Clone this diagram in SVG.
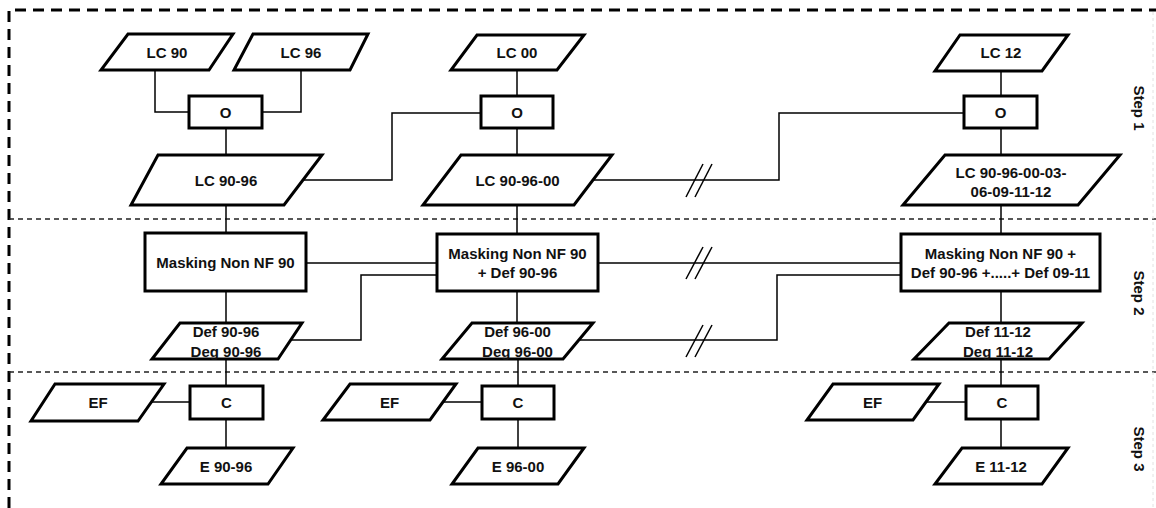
<svg xmlns="http://www.w3.org/2000/svg" width="1156" height="508" viewBox="0 0 1156 508">
<style>
.n{fill:#fff;stroke:#000;stroke-width:3;stroke-linejoin:miter}
.c{fill:none;stroke:#000;stroke-width:1.5}
.t{font-family:"Liberation Sans",Arial,sans-serif;font-weight:bold;font-size:15px;fill:#111;text-anchor:middle}
.sep{fill:none;stroke:#222;stroke-width:1.5;stroke-dasharray:5 4}
.outer{fill:none;stroke:#000;stroke-width:3;stroke-dasharray:11 7}
</style>
<rect width="1156" height="508" fill="#fff"/>
<g id="frame">
<path class="outer" d="M9,508 L9,10 L1156,10"/>
<line class="sep" x1="9" y1="219" x2="1156" y2="219"/>
<line class="sep" x1="9" y1="372" x2="1156" y2="372"/>
<line x1="1153" y1="12" x2="1153" y2="508" stroke="#e2e2e2" stroke-width="1" stroke-dasharray="3 3"/>
</g>
<g id="connectors">
<polyline class="c" points="155,70 155,112 189,112"/>
<polyline class="c" points="301,70 301,112 262,112"/>
<line class="c" x1="226" y1="128" x2="226" y2="155"/>
<polyline class="c" points="303,180 392,180 392,113 481,113"/>
<line class="c" x1="517" y1="70" x2="517" y2="96"/>
<line class="c" x1="517" y1="128" x2="517" y2="155"/>
<polyline class="c" points="593,180 779,180 779,113 964,113"/>
<line class="c" x1="686" y1="197" x2="703" y2="164"/>
<line class="c" x1="695" y1="197" x2="712" y2="164"/>
<line class="c" x1="1001" y1="71" x2="1001" y2="96"/>
<line class="c" x1="1001" y1="128" x2="1001" y2="155"/>
<line class="c" x1="226" y1="205" x2="226" y2="233"/>
<line class="c" x1="517" y1="205" x2="517" y2="234"/>
<line class="c" x1="1001" y1="205" x2="1001" y2="234"/>
<line class="c" x1="306" y1="263" x2="437" y2="263"/>
<polyline class="c" points="290,340 361,340 361,275 437,275"/>
<line class="c" x1="598" y1="263" x2="901" y2="263"/>
<line class="c" x1="686" y1="279" x2="703" y2="247"/>
<line class="c" x1="695" y1="279" x2="712" y2="247"/>
<polyline class="c" points="578,340 777,340 777,275 901,275"/>
<line class="c" x1="686" y1="357" x2="703" y2="325"/>
<line class="c" x1="695" y1="357" x2="712" y2="325"/>
<line class="c" x1="226" y1="291" x2="226" y2="323"/>
<line class="c" x1="517" y1="291" x2="517" y2="323"/>
<line class="c" x1="1001" y1="291" x2="1001" y2="323"/>
<line class="c" x1="226" y1="359" x2="226" y2="386"/>
<line class="c" x1="518" y1="359" x2="518" y2="386"/>
<line class="c" x1="1001" y1="359" x2="1001" y2="386"/>
<line class="c" x1="151" y1="402" x2="190" y2="402"/>
<line class="c" x1="443" y1="402" x2="482" y2="402"/>
<line class="c" x1="926" y1="402" x2="966" y2="402"/>
<line class="c" x1="226" y1="419" x2="226" y2="448"/>
<line class="c" x1="518" y1="419" x2="518" y2="448"/>
<line class="c" x1="1001" y1="419" x2="1001" y2="448"/>
</g>
<g id="lc90"><polygon class="n" points="128,34 233,34 209,70 101,70"/><text class="t" x="167" y="57.5">LC 90</text></g>
<g id="lc96"><polygon class="n" points="253,34 368,34 350,70 234,70"/><text class="t" x="301" y="57.5">LC 96</text></g>
<g id="o1"><rect class="n" x="189" y="96" width="73" height="32"/><text class="t" x="225.5" y="117.5">O</text></g>
<g id="lc9096"><polygon class="n" points="158,155 322,155 284,205 131,205"/><text class="t" x="226" y="185.5">LC 90-96</text></g>
<g id="lc00"><polygon class="n" points="477,35 584,35 557,70 451,70"/><text class="t" x="517" y="58">LC 00</text></g>
<g id="o2"><rect class="n" x="481" y="96" width="72" height="32"/><text class="t" x="517" y="117.5">O</text></g>
<g id="lc909600"><polygon class="n" points="461,155 612,155 574,205 423,205"/><text class="t" x="517.5" y="185.5">LC 90-96-00</text></g>
<g id="lc12"><polygon class="n" points="960,35 1068,35 1042,71 935,71"/><text class="t" x="1001" y="58">LC 12</text></g>
<g id="o3"><rect class="n" x="964" y="96" width="73" height="32"/><text class="t" x="1000.5" y="117.5">O</text></g>
<g id="lcall"><polygon class="n" points="945,155 1120,155 1078,205 903,205"/><text class="t" x="1011" y="177.5">LC 90-96-00-03-</text><text class="t" x="1011" y="196.5">06-09-11-12</text></g>
<g id="mask1"><rect class="n" x="145" y="233" width="161" height="58"/><text class="t" x="225.5" y="268">Masking Non NF 90</text></g>
<g id="mask2"><rect class="n" x="437" y="234" width="161" height="57"/><text class="t" x="517.5" y="258.5">Masking Non NF 90</text><text class="t" x="517.5" y="278">+ Def 90-96</text></g>
<g id="mask3"><rect class="n" x="901" y="234" width="199" height="57"/><text class="t" x="1000.5" y="258.5">Masking Non NF 90 +</text><text class="t" x="1000.5" y="278">Def 90-96 +.....+ Def 09-11</text></g>
<g id="def9096"><polygon class="n" points="180,323 302,323 278,359 152,359"/><text class="t" x="226" y="337">Def 90-96</text><text class="t" x="226" y="357">Deg 90-96</text></g>
<g id="def9600"><polygon class="n" points="472,323 593,323 563,359 442,359"/><text class="t" x="517.5" y="337">Def 96-00</text><text class="t" x="517.5" y="357">Deg 96-00</text></g>
<g id="def1112"><polygon class="n" points="949,323 1082,323 1049,359 914,359"/><text class="t" x="998" y="337">Def 11-12</text><text class="t" x="998" y="357">Deg 11-12</text></g>
<g id="ef1"><polygon class="n" points="55,384 164,384 138,421 31,421"/><text class="t" x="98" y="407.5">EF</text></g>
<g id="c1"><rect class="n" x="190" y="386" width="73" height="33"/><text class="t" x="226.5" y="407.5">C</text></g>
<g id="e9096"><polygon class="n" points="187,448 293,448 268,484 161,484"/><text class="t" x="226" y="471.5">E 90-96</text></g>
<g id="ef2"><polygon class="n" points="350,384 456,384 430,420 323,420"/><text class="t" x="389.5" y="407.5">EF</text></g>
<g id="c2"><rect class="n" x="482" y="386" width="72" height="33"/><text class="t" x="518" y="407.5">C</text></g>
<g id="e9600"><polygon class="n" points="478,448 584,448 558,484 452,484"/><text class="t" x="518" y="471.5">E 96-00</text></g>
<g id="ef3"><polygon class="n" points="833,384 939,384 913,420 807,420"/><text class="t" x="872.5" y="407.5">EF</text></g>
<g id="c3"><rect class="n" x="966" y="386" width="72" height="33"/><text class="t" x="1002" y="407.5">C</text></g>
<g id="e1112"><polygon class="n" points="962,448 1068,448 1042,484 935,484"/><text class="t" x="1001" y="471.5">E 11-12</text></g>
<g id="steps">
<text class="t" transform="translate(1139,108) rotate(90)" y="5">Step 1</text>
<text class="t" transform="translate(1139,293) rotate(90)" y="5">Step 2</text>
<text class="t" transform="translate(1139,449) rotate(90)" y="5">Step 3</text>
</g>
</svg>
